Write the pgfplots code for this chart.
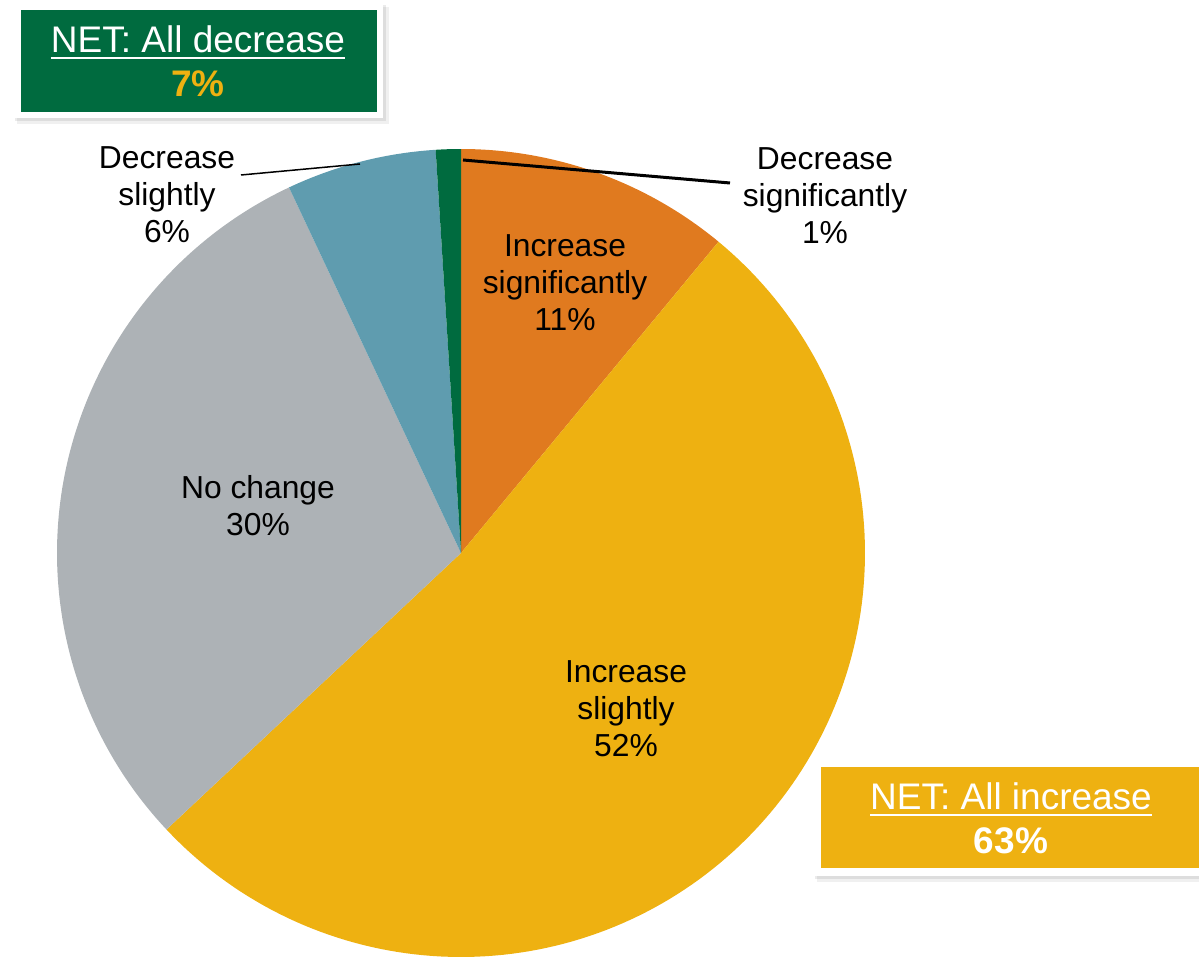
\documentclass[border=0pt]{standalone}
\usepackage{pgfplots}
\pgfplotsset{compat=1.18}
\usepackage{pgfplotstable}
\usepackage{fontspec}
\setmainfont{Liberation Sans}
\definecolor{slice0}{HTML}{E07A1F}
\definecolor{slice1}{HTML}{EEB111}
\definecolor{slice2}{HTML}{ADB2B6}
\definecolor{slice3}{HTML}{5F9CAF}
\definecolor{slice4}{HTML}{006B3F}
\definecolor{netgreen}{HTML}{006B3F}
\definecolor{netgold}{HTML}{EEB111}
\newcommand\ul[1]{\setbox0\hbox{#1}\rlap{\rule[-3.5pt]{\wd0}{1pt}}\box0}
% slices clockwise from 12 o'clock: pct and cumulative start
\pgfplotstableread{
idx pct start
0 11 0
1 52 11
2 30 63
3 6 93
4 1 99
}\piedata
\begin{document}
\begin{tikzpicture}
\begin{axis}[x=0.5pt,y=0.5pt,xmin=0,xmax=1199,ymin=0,ymax=959,hide axis,clip=false]
\coordinate (SW) at (axis cs:0,0);
\coordinate (NE) at (axis cs:1199,959);
\pgfplotsinvokeforeach{0,...,4}{
 \pgfplotstablegetelem{#1}{pct}\of\piedata \edef\p{\pgfplotsretval}
 \pgfplotstablegetelem{#1}{start}\of\piedata \edef\s{\pgfplotsretval}
 \pgfmathsetmacro\a{90-3.6*\s}
 \pgfmathsetmacro\b{90-3.6*(\s+\p)}
 \edef\cmd{\noexpand\addplot[fill=slice#1,draw=none,domain=\b:\a,samples=150] ({461+404*cos(x)},{406+404*sin(x)}) -- (axis cs:461,406) -- cycle;}
 \cmd
}
% leader lines
\draw[black,line width=0.75pt] (axis cs:241,784) -- (axis cs:360,795);
\draw[black,line width=1.5pt] (axis cs:463,799) -- (axis cs:730,776);
% labels
\tikzset{lab/.style={align=center,font=\fontsize{15.9}{18.5}\selectfont,inner sep=0pt}}
\node[lab] at (axis cs:565,676) {Increase\\significantly\\11\%};
\node[lab] at (axis cs:626,250) {Increase\\slightly\\52\%};
\node[lab] at (axis cs:258,453) {No change\\30\%};
\node[lab] at (axis cs:167,764) {Decrease\\slightly\\6\%};
\node[lab] at (axis cs:825,763) {Decrease\\significantly\\1\%};
% NET boxes
\fill[black,opacity=0.06] (axis cs:17,835) rectangle (axis cs:389,952);
\fill[black,opacity=0.08] (axis cs:15,838) rectangle (axis cs:386,954);
\fill[white] (axis cs:13,841) rectangle (axis cs:383,956);
\fill[netgreen] (axis cs:21,847) rectangle (axis cs:377,949);
\node[align=center,font=\fontsize{18.5}{22}\selectfont,inner sep=0pt,text=white] at (axis cs:198,898) {\ul{NET: All decrease}\\\textcolor{netgold}{\bfseries 7\%}};
\fill[black,opacity=0.06] (axis cs:817,77) rectangle (axis cs:1199,198);
\fill[black,opacity=0.08] (axis cs:815,80) rectangle (axis cs:1199,200);
\fill[white] (axis cs:813,83) rectangle (axis cs:1199,201);
\fill[netgold] (axis cs:821,91) rectangle (axis cs:1199,192);
\node[align=center,font=\fontsize{18.5}{22}\selectfont,inner sep=0pt,text=white] at (axis cs:1011,141) {\ul{NET: All increase}\\{\bfseries 63\%}};
\end{axis}
\pgfresetboundingbox
\path (SW) rectangle (NE);
\end{tikzpicture}
\end{document}
